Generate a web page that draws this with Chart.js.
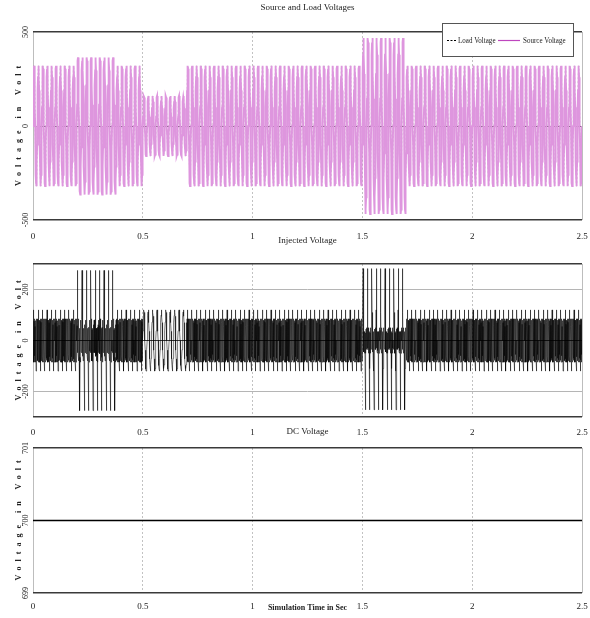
<!DOCTYPE html>
<html>
<head>
<meta charset="utf-8">
<script src="https://cdn.jsdelivr.net/npm/chart.js@4.4.1/dist/chart.umd.min.js"></script>
<style>
  html, body { margin: 0; padding: 0; background: #fff; }
  #wrap { position: relative; width: 590px; height: 618px; }
  #wrap canvas { position: absolute; left: 0; top: 0; }
</style>
</head>
<body>
<div id="wrap">
  <canvas id="srcChart" width="590" height="618"></canvas>
  <canvas id="injChart" width="590" height="618"></canvas>
  <canvas id="dcChart" width="590" height="618"></canvas>
</div>
<script>
// ---- simulation data ----
const FREQ = 50;          // supply frequency (Hz)
const T_END = 2.5;        // simulation length (s)
const xTickValues = [0, 0.5, 1, 1.5, 2, 2.5];

// operating intervals (s)
const segStart = [0, 0.2, 0.38, 0.5, 0.7, 1.5, 1.7];
const segEnd   = [0.2, 0.38, 0.5, 0.7, 1.5, 1.7, 2.5];

// peak source and load voltage in each interval (V)
const sourcePeak = [320, 365, 320, 160, 320, 468, 320];
const loadPeak   = [320, 180, 320, 160, 320, 320, 320];

// one supply cycle, per unit
const unitCycle = [0, 0.31, 0.59, 0.81, 0.95, 1, 0.95, 0.81, 0.59, 0.31,
                   0, -0.31, -0.59, -0.81, -0.95, -1, -0.95, -0.81, -0.59, -0.31];

// one supply cycle of injected voltage (V) for each operating state
const injNormal = [0, 70, -62, 85, -78, 82, -70, 120, -85, 76, -80, 85, -72, 64, -85, 80, -60, 55,
                   0, -70, 62, -85, 78, -82, 70, -120, 85, -76, 80, -85, 72, -64, 85, -80, 60, -55];
const injSwellA = [0, 58, -48, 82, 275, 66, -52, 85, -62, 48, -80, 42,
                   0, -58, 48, -82, -275, -66, 52, -85, 62, -48, 80, -42];
const injSag    = [0, 38, 72, 98, 112, 120, 110, 95, 70, 36,
                   0, -38, -72, -98, -112, -120, -110, -95, -70, -36];
const injSwellB = [0, 40, -35, 120, 282, 110, -30, 50, -45, 35, -50, 30,
                   0, -40, 35, -120, -272, -110, 30, -50, 45, -35, 50, -30];
const injectedCycleOf = [injNormal, injSwellA, injNormal, injSag, injNormal, injSwellB, injNormal];

// DC link voltage (V)
const dcTime = [0, 2.5];
const dcVoltage = [700, 700];

// y tick labels
const srcYTicks = [-500, 0, 500];
const injYTicks = [-200, 0, 200];
const dcYTicks  = [699, 700, 701];

// ---- build point tables ----
function buildWave(cycleFor) {
  const pts = [];
  const nCycles = Math.round(T_END * FREQ);
  for (let k = 0; k < nCycles; k++) {
    const t0 = k / FREQ;
    let s = 0;
    while (s < segEnd.length - 1 && t0 >= segEnd[s] - 1e-9) s++;
    const cyc = cycleFor(s);
    const n = cyc.length;
    for (let j = 0; j < n; j++) pts.push({ x: t0 + j / (n * FREQ), y: cyc[j] });
  }
  pts.push({ x: T_END, y: 0 });
  return pts;
}
const sourceData   = buildWave(s => unitCycle.map(u => u * sourcePeak[s]));
const loadData     = buildWave(s => unitCycle.map(u => u * loadPeak[s]));
const injectedData = buildWave(s => injectedCycleOf[s]);
const dcData       = dcTime.map((t, i) => ({ x: t, y: dcVoltage[i] }));

// ---- shared styling ----
const SERIF = '"Liberation Serif", "DejaVu Serif", serif';
const TEXT = '#222';

// rotated y tick labels and spaced y-axis title
const yAxisText = {
  id: 'yAxisText',
  afterDraw(chart, args, opts) {
    const sc = chart.scales.y, ctx = chart.ctx;
    ctx.save();
    ctx.fillStyle = TEXT;
    ctx.font = '8px ' + SERIF;
    ctx.textAlign = 'center';
    ctx.textBaseline = 'alphabetic';
    for (const v of opts.ticks) {
      const y = sc.getPixelForValue(v);
      ctx.save();
      ctx.translate(opts.tickX, y);
      ctx.rotate(-Math.PI / 2);
      ctx.fillText(String(v), 0, 0);
      ctx.restore();
    }
    ctx.font = 'bold 8px ' + SERIF;
    ctx.letterSpacing = '5px';
    ctx.textBaseline = 'middle';
    const cy = (chart.chartArea.top + chart.chartArea.bottom) / 2;
    ctx.translate(opts.titleX, cy);
    ctx.rotate(-Math.PI / 2);
    ctx.fillText(opts.title, 2.5, 0);
    ctx.restore();
  }
};

// boxed legend in the upper right corner of the voltage plot
const boxLegend = {
  id: 'boxLegend',
  afterDraw(chart, args, opts) {
    if (!opts || !opts.box) return;
    const ctx = chart.ctx;
    const b = opts.box;
    ctx.save();
    ctx.fillStyle = '#fff';
    ctx.fillRect(b.x, b.y, b.w, b.h);
    ctx.strokeStyle = '#555';
    ctx.lineWidth = 1;
    ctx.strokeRect(b.x + 0.5, b.y + 0.5, b.w, b.h);
    const cy = b.y + b.h / 2 + 1;
    chart.data.datasets.forEach((ds, i) => {
      const it = opts.items[i];
      ctx.beginPath();
      ctx.setLineDash(ds.legendDash || []);
      ctx.strokeStyle = ds.legendColor || ds.borderColor;
      ctx.lineWidth = 1.2;
      ctx.moveTo(it.x0, cy);
      ctx.lineTo(it.x1, cy);
      ctx.stroke();
      ctx.setLineDash([]);
      ctx.save();
      ctx.translate(it.tx, cy);
      ctx.scale(0.78, 1);
      ctx.fillStyle = TEXT;
      ctx.font = '9px ' + SERIF;
      ctx.textBaseline = 'middle';
      ctx.fillText(ds.label, 0, 0);
      ctx.restore();
    });
    ctx.restore();
  }
};

function makeOptions(cfg) {
  const { yMin, yMax, yTicks, zeroDark, title, titlePad, pad, xH, xPad, xTitle } = cfg;
  const yVals = Array.from(new Set([yMin, ...yTicks, yMax])).sort((a, b) => a - b);
  return {
    responsive: false,
    animation: false,
    parsing: false,
    normalized: true,
    events: [],
    layout: { padding: pad },
    elements: { point: { radius: 0 }, line: { tension: 0 } },
    plugins: {
      legend: { display: false },
      tooltip: { enabled: false },
      title: {
        display: true, text: title, fullSize: false, color: TEXT,
        font: { family: SERIF, size: 9, weight: 'normal', lineHeight: 1.2 },
        padding: titlePad
      },
      yAxisText: { ticks: yTicks, title: 'Voltage in Volt', tickX: 28, titleX: 19 }
    },
    scales: {
      x: {
        type: 'linear', min: 0, max: T_END,
        afterBuildTicks: sc => { sc.ticks = xTickValues.map(v => ({ value: v })); },
        afterFit: sc => { sc.height = xH; sc.paddingLeft = 0; sc.paddingRight = 0; },
        grid: {
          drawTicks: false,
          color: c => (c.tick && (c.tick.value === 0 || c.tick.value === T_END)) ? '#bdbdbd' : '#c2c2c2',
          lineWidth: 1
        },
        border: {
          display: false,
          dash: c => (c.tick && (c.tick.value === 0 || c.tick.value === T_END)) ? [] : [2, 2]
        },
        ticks: {
          padding: xPad, color: TEXT, maxRotation: 0, autoSkip: false,
          font: { family: SERIF, size: 9, lineHeight: 1.2 },
          callback: v => String(v)
        },
        title: xTitle ? {
          display: true, text: xTitle, color: TEXT,
          font: { family: SERIF, size: 8, weight: 'bold', lineHeight: 1.2 },
          padding: { top: 0, bottom: 5.2 }
        } : { display: false }
      },
      y: {
        type: 'linear', min: yMin, max: yMax, z: 1,
        afterBuildTicks: sc => { sc.ticks = yVals.map(v => ({ value: v })); },
        afterFit: sc => { sc.width = 33; sc.paddingTop = 0; sc.paddingBottom = 0; },
        grid: {
          drawTicks: false,
          color: c => {
            const v = c.tick ? c.tick.value : null;
            if (v === yMin || v === yMax) return '#3a3a3a';
            if (v === 0 && zeroDark) return '#3c3c3c';
            return '#b5b5b5';
          },
          lineWidth: c => (c.tick && (c.tick.value === yMin || c.tick.value === yMax)) ? 1.6 : 1
        },
        border: { display: false },
        ticks: { display: false }
      }
    }
  };
}

// ---- Source and Load Voltages ----
const srcOptions = makeOptions({
  yMin: -500, yMax: 500, yTicks: srcYTicks, zeroDark: true,
  title: 'Source and Load Voltages',
  titlePad: { top: 2.6, bottom: 18.6 },
  pad: { left: 0, right: 8, top: 0, bottom: 378 },
  xH: 20, xPad: 11
});
srcOptions.plugins.boxLegend = {
  box: { x: 442, y: 23, w: 131, h: 33 },
  items: [{ x0: 447, x1: 456, tx: 458 }, { x0: 498, x1: 520, tx: 523 }]
};
new Chart(document.getElementById('srcChart'), {
  type: 'line',
  data: {
    datasets: [
      { label: 'Load Voltage', data: loadData, borderColor: 'rgba(40,0,40,0.55)', borderWidth: 0.6,
        borderDash: [2, 2], legendDash: [2, 1.5], legendColor: '#000', order: 1 },
      { label: 'Source Voltage', data: sourceData, borderColor: 'rgb(222,150,222)',
        legendColor: 'rgb(190,70,190)', borderWidth: 1.9, order: 0 }
    ]
  },
  options: srcOptions,
  plugins: [yAxisText, boxLegend]
});

// ---- Injected Voltage ----
new Chart(document.getElementById('injChart'), {
  type: 'line',
  data: {
    datasets: [
      { label: 'Injected Voltage', data: injectedData, borderColor: '#000', borderWidth: 0.55 }
    ]
  },
  options: makeOptions({
    yMin: -300, yMax: 300, yTicks: injYTicks, zeroDark: true,
    title: 'Injected Voltage',
    titlePad: { top: 7.6, bottom: 17.6 },
    pad: { left: 0, right: 8, top: 228, bottom: 181 },
    xH: 20, xPad: 10
  }),
  plugins: [yAxisText]
});

// ---- DC Voltage ----
new Chart(document.getElementById('dcChart'), {
  type: 'line',
  data: {
    datasets: [
      { label: 'DC Voltage', data: dcData, borderColor: '#000', borderWidth: 1.5 }
    ]
  },
  options: makeOptions({
    yMin: 699, yMax: 701, yTicks: dcYTicks, zeroDark: false,
    title: 'DC Voltage',
    titlePad: { top: 6.6, bottom: 10.6 },
    pad: { left: 0, right: 8, top: 420, bottom: 0 },
    xH: 25, xPad: 8.2, xTitle: 'Simulation Time in Sec'
  }),
  plugins: [yAxisText]
});
</script>
</body>
</html>
